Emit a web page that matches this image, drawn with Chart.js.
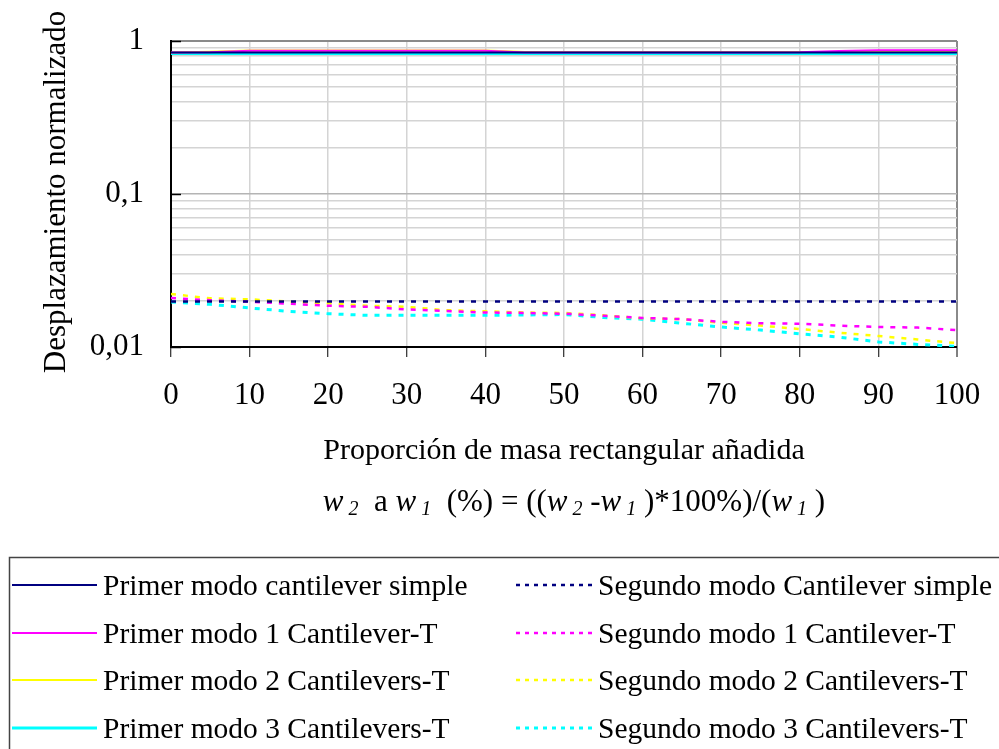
<!DOCTYPE html>
<html>
<head>
<meta charset="utf-8">
<script src="https://cdn.jsdelivr.net/npm/chart.js@4.4.1/dist/chart.umd.min.js"></script>
<style>
  html, body { margin: 0; padding: 0; background: #fff; }
  #wrap { width: 999px; height: 749px; position: relative; }
</style>
</head>
<body>
<div id="wrap"><canvas id="chart"></canvas></div>
<script>
// proporción de masa añadida (%)
const masa = [0, 5, 10, 15, 20, 25, 30, 35, 40, 45, 50, 55, 60, 65, 70, 75, 80, 85, 90, 95, 100];

// primer modo
const primerSimple = [0.84, 0.84, 0.84, 0.84, 0.84, 0.84, 0.84, 0.84, 0.84, 0.84, 0.84, 0.84, 0.84, 0.84, 0.84, 0.84, 0.84, 0.84, 0.84, 0.84, 0.84];
const primer1T = [0.84, 0.845, 0.862, 0.862, 0.862, 0.862, 0.862, 0.862, 0.862, 0.842, 0.842, 0.842, 0.842, 0.842, 0.842, 0.842, 0.845, 0.86, 0.87, 0.87, 0.87];
const primer2T = [0.84, 0.85, 0.868, 0.868, 0.868, 0.868, 0.868, 0.868, 0.868, 0.848, 0.848, 0.848, 0.848, 0.848, 0.848, 0.848, 0.848, 0.848, 0.848, 0.848, 0.848];
const primer3T = [0.83, 0.83, 0.83, 0.83, 0.83, 0.83, 0.83, 0.83, 0.83, 0.83, 0.83, 0.83, 0.83, 0.83, 0.83, 0.83, 0.83, 0.83, 0.83, 0.83, 0.83];

// segundo modo
const segundoSimple = [0.0198, 0.0198, 0.0198, 0.0198, 0.0198, 0.0198, 0.0198, 0.0198, 0.0198, 0.0198, 0.0198, 0.0198, 0.0198, 0.0198, 0.0198, 0.0198, 0.0198, 0.0198, 0.0198, 0.0198, 0.0198];
const segundo1T = [0.0209, 0.0202, 0.0198, 0.0192, 0.0186, 0.0183, 0.0176, 0.0172, 0.0168, 0.0167, 0.0165, 0.016, 0.0155, 0.0152, 0.0146, 0.0143, 0.0142, 0.0138, 0.0135, 0.0134, 0.0129];
const segundo2T = [0.0222, 0.0208, 0.0205, 0.0198, 0.0193, 0.0186, 0.0183, 0.0174, 0.0171, 0.0168, 0.0167, 0.0161, 0.0154, 0.0152, 0.0144, 0.0138, 0.0131, 0.0124, 0.0118, 0.0112, 0.0106];
const segundo3T = [0.0197, 0.019, 0.018, 0.0171, 0.0165, 0.0161, 0.0161, 0.0161, 0.0161, 0.0162, 0.0163, 0.0156, 0.0152, 0.0143, 0.0135, 0.0129, 0.0122, 0.0116, 0.0108, 0.0104, 0.0101];

const xTicks = [0, 10, 20, 30, 40, 50, 60, 70, 80, 90, 100];
const yLabels = { '1': '1', '0.1': '0,1', '0.01': '0,01' };

const FONT = "'Liberation Serif', 'Times New Roman', serif";
Chart.defaults.font.family = FONT;
Chart.defaults.color = '#000';

const pts = arr => arr.map((v, i) => ({ x: masa[i], y: v }));

function serie(label, arr, color, dashed, width) {
  return {
    label: label,
    data: pts(arr),
    borderColor: color,
    backgroundColor: color,
    borderWidth: width,
    borderDash: dashed ? [5, 7] : [],
    pointRadius: 0,
    tension: 0,
    fill: false
  };
}

const datasets = [
  serie('Primer modo cantilever simple', primerSimple, '#000080', false, 2),
  serie('Segundo modo Cantilever simple', segundoSimple, '#000080', true, 2.5),
  serie('Primer modo 1 Cantilever-T', primer1T, '#ff00ff', false, 2),
  serie('Segundo modo 1 Cantilever-T', segundo1T, '#ff00ff', true, 2.5),
  serie('Primer modo 2 Cantilevers-T', primer2T, '#ffff00', false, 2),
  serie('Segundo modo 2 Cantilevers-T', segundo2T, '#ffff00', true, 2.5),
  serie('Primer modo 3 Cantilevers-T', primer3T, '#00ffff', false, 3),
  serie('Segundo modo 3 Cantilevers-T', segundo3T, '#00ffff', true, 3)
];

// log grid: 1..9 x 10^n between 0.01 and 1
const yGrid = [];
for (let e = -2; e <= 0; e++) {
  for (let k = 1; k <= 9; k++) {
    const v = +(k * Math.pow(10, e)).toFixed(4);
    if (v <= 1) yGrid.push(v);
  }
}

const decor = {
  id: 'decor',
  afterDraw(chart) {
    const ctx = chart.ctx;
    const area = chart.chartArea;
    const ys = chart.scales.y;
    ctx.save();

    // marcas interiores del eje Y
    ctx.strokeStyle = '#000';
    ctx.lineWidth = 1.5;
    [1, 0.1, 0.01].forEach(v => {
      const py = Math.round(ys.getPixelForValue(v)) + 0.5;
      ctx.beginPath();
      ctx.moveTo(area.left, py);
      ctx.lineTo(area.left + 10, py);
      ctx.stroke();
    });

    // título eje Y
    ctx.fillStyle = '#000';
    ctx.font = '31px ' + FONT;
    ctx.textAlign = 'center';
    ctx.textBaseline = 'middle';
    ctx.save();
    ctx.translate(57, 192);
    ctx.rotate(-Math.PI / 2);
    ctx.fillText('Desplazamiento normalizado', 0, 0);
    ctx.restore();

    // título eje X, línea 1
    ctx.textBaseline = 'alphabetic';
    ctx.font = '30px ' + FONT;
    ctx.fillText('Proporción de masa rectangular añadida', 564, 459);

    // línea 2 con subíndices
    const parts = [
      { t: 'w', it: true }, { t: ' 2', sub: true }, { t: '  a ' },
      { t: 'w', it: true }, { t: ' 1', sub: true }, { t: '  (%) = ((' },
      { t: 'w', it: true }, { t: ' 2', sub: true }, { t: ' -' },
      { t: 'w', it: true }, { t: ' 1', sub: true }, { t: ' )*100%)/(' },
      { t: 'w', it: true }, { t: ' 1', sub: true }, { t: ' )' }
    ];
    const fontOf = p => p.sub ? 'italic 20px ' + FONT : (p.it ? 'italic 31px ' : '31px ') + FONT;
    let total = 0;
    parts.forEach(p => { ctx.font = fontOf(p); total += ctx.measureText(p.t).width; });
    let x = 574 - total / 2;
    ctx.textAlign = 'left';
    parts.forEach(p => {
      ctx.font = fontOf(p);
      ctx.fillText(p.t, x, p.sub ? 515 : 511);
      x += ctx.measureText(p.t).width;
    });

    // leyenda
    ctx.strokeStyle = '#444';
    ctx.lineWidth = 1.5;
    ctx.strokeRect(9.5, 557.5, 1010, 220);
    const rowsY = [585, 633, 680, 728];
    const cols = [{ x0: 12, x1: 97, tx: 103 }, { x0: 516, x1: 592, tx: 598 }];
    ctx.font = '29.5px ' + FONT;
    ctx.textBaseline = 'alphabetic';
    chart.data.datasets.forEach((ds, i) => {
      const col = cols[i % 2];
      const y = rowsY[Math.floor(i / 2)];
      ctx.save();
      ctx.strokeStyle = ds.borderColor;
      ctx.lineWidth = ds.borderWidth;
      ctx.setLineDash(ds.borderDash.length ? [4, 5] : []);
      ctx.beginPath();
      ctx.moveTo(col.x0, y);
      ctx.lineTo(col.x1, y);
      ctx.stroke();
      ctx.restore();
      ctx.fillStyle = '#000';
      ctx.fillText(ds.label, col.tx, y + 10);
    });

    ctx.restore();
  }
};

new Chart(document.getElementById('chart'), {
  type: 'line',
  data: { datasets: datasets },
  options: {
    responsive: true,
    maintainAspectRatio: false,
    animation: false,
    layout: { padding: { left: 0, top: 41, right: 42, bottom: 0 } },
    plugins: {
      legend: { display: false },
      tooltip: { enabled: false }
    },
    scales: {
      x: {
        type: 'linear',
        min: 0,
        max: 100,
        afterFit: s => { s.height = 402; s.paddingLeft = 0; s.paddingRight = 0; },
        afterBuildTicks: s => { s.ticks = xTicks.map(v => ({ value: v })); },
        ticks: {
          font: { size: 31 },
          color: '#000',
          padding: 20,
          maxRotation: 0
        },
        grid: {
          color: c => (c.tick && c.tick.value === 100) ? '#8a8a8a' : '#d4d4d4',
          lineWidth: c => (c.tick && c.tick.value === 100) ? 2 : 1.5,
          drawTicks: true,
          tickLength: 10,
          tickColor: '#000',
          tickWidth: 1
        },
        border: { color: '#000', width: 2 }
      },
      y: {
        type: 'logarithmic',
        min: 0.01,
        max: 1,
        afterFit: s => { s.width = 171; s.paddingTop = 0; s.paddingBottom = 0; },
        afterBuildTicks: s => { s.ticks = yGrid.map(v => ({ value: v })); },
        ticks: {
          font: { size: 31 },
          color: '#000',
          padding: 27,
          autoSkip: false,
          callback: v => yLabels[String(v)] || ''
        },
        grid: {
          color: c => {
            if (!c.tick) return '#d4d4d4';
            if (c.tick.value === 1) return '#8a8a8a';
            if (c.tick.value === 0.1) return '#b4b4b4';
            return '#d4d4d4';
          },
          lineWidth: c => (c.tick && c.tick.value === 1) ? 2 : 1.5,
          drawTicks: false
        },
        border: { color: '#000', width: 2 }
      }
    }
  },
  plugins: [decor]
});
</script>
</body>
</html>
